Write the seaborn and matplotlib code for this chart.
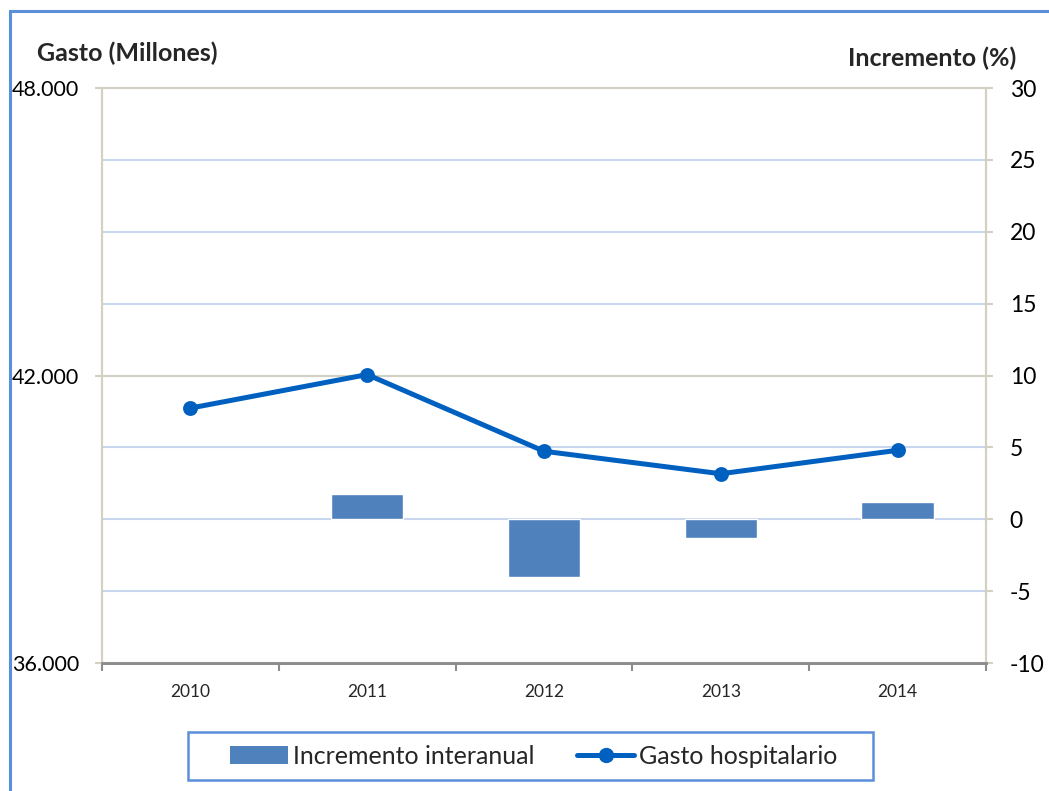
import numpy as np
import pandas as pd
import matplotlib
matplotlib.use("Agg")
import matplotlib.pyplot as plt
import seaborn as sns
from matplotlib.patches import Patch, Rectangle
from matplotlib.lines import Line2D
from matplotlib.ticker import FuncFormatter

# --- data ---
years = ['2010', '2011', '2012', '2013', '2014']
gasto = [41320, 42020, 40420, 39950, 40440]          # millones (left axis)
incremento = [np.nan, 1.75, -4.0, -1.3, 1.2]        # % (right axis)

df = pd.DataFrame({'year': years, 'gasto': gasto, 'incremento': incremento})

sns.set_theme(style="white")
plt.rcParams['font.family'] = ['Lato', 'DejaVu Sans']

BAR = '#4F81BD'
LINE = '#0060C0'
BEIGE = '#D4D0C2'
GRID = '#C8D6EE'
BORDER = '#5B8FD9'

fig = plt.figure(figsize=(10.49, 7.91), dpi=100)
ax = fig.add_axes([0.0972, 0.1618, 0.9400 - 0.0972, 0.8887 - 0.1618])

# bars on the percentage axis (drawn on the right side)
sns.barplot(data=df, x='year', y='incremento', order=years, color=BAR,
            width=0.41, saturation=1, ax=ax, zorder=2)
ax.set_ylim(-10, 30)
ax.set_yticks(np.arange(-10, 31, 5))
ax.yaxis.tick_right()
ax.yaxis.set_major_formatter(FuncFormatter(lambda v, p: f"{int(v)}"))
ax.grid(axis='y', color=GRID, linewidth=1.5, zorder=0)
ax.set_axisbelow(True)

# line on the spending axis (drawn on the left side)
ax2 = ax.twinx()
sns.pointplot(data=df, x='year', y='gasto', order=years, color=LINE,
              markers='o', linewidth=3.6, markersize=8, ax=ax2)
ax2.set_ylim(36000, 48000)
ax2.set_yticks([36000, 42000, 48000])
ax2.yaxis.tick_left()
ax2.yaxis.set_major_formatter(FuncFormatter(lambda v, p: f"{int(v):,}".replace(',', '.')))
ax2.grid(axis='y', color=BEIGE, linewidth=1.5)
ax2.grid(axis='x', visible=False)
ax2.set_xlim(-0.5, 4.5)
ax.set_xlim(-0.5, 4.5)

for a in (ax, ax2):
    a.set_xlabel('')
    a.set_ylabel('')
    for s in a.spines.values():
        s.set_color(BEIGE)
        s.set_linewidth(1.5)
    a.spines['bottom'].set_color('#8C8C8C')
    a.spines['bottom'].set_linewidth(2)
    a.spines['top'].set_visible(False)

ax2.spines['top'].set_visible(True)

ax.tick_params(axis='y', right=True, left=False, labelright=True, labelleft=False,
               length=5, width=1.5, color=BEIGE, labelsize=16.5, pad=12, labelcolor='black')
ax2.tick_params(axis='y', left=True, right=False, labelleft=True, labelright=False,
                length=5, width=1.5, color=BEIGE, labelsize=15.5, pad=11.5, labelcolor='black')

# category boundary ticks on the x axis
ax.set_xticks(range(len(years)))
ax.set_xticklabels(years)
ax.tick_params(axis='x', length=0, labelsize=12.5, pad=15)
ax.set_xticks(np.arange(-0.5, len(years), 1), minor=True)
ax.tick_params(axis='x', which='minor', bottom=True, length=6, width=1.5, color='#8C8C8C')
ax2.tick_params(axis='x', bottom=False, labelbottom=False)

# axis titles
fig.text(37 / 1049, 1 - 53 / 791, 'Gasto (Millones)', fontsize=18, fontweight='bold',
         ha='left', va='center')
fig.text(1016 / 1049, 1 - 58 / 791, 'Incremento (%)', fontsize=18, fontweight='bold',
         ha='right', va='center')

# legend (frame drawn separately to get the wide side padding)
handles = [Patch(facecolor=BAR, edgecolor='none', label='Incremento interanual'),
           Line2D([0], [0], color=LINE, lw=3.6, marker='o', markersize=10,
                  label='Gasto hospitalario')]
fig.legend(handles=handles, loc='center', bbox_to_anchor=(534 / 1049, 1 - 756 / 791), ncol=2,
           fontsize=18, frameon=False, handlelength=2.3, handleheight=0.75,
           handletextpad=0.2, columnspacing=1.7, borderpad=0.3, borderaxespad=0)
fig.patches.append(Rectangle((188 / 1049, 1 - 780 / 791), (873 - 188) / 1049, 48 / 791,
                             transform=fig.transFigure, fill=False,
                             edgecolor=BORDER, linewidth=1.8))

# outer chart border (left and top visible)
fig.patches.append(Rectangle((9.5 / 1049, -0.05), 1.2, 1 - 10.5 / 791 + 0.05,
                             transform=fig.transFigure, fill=False,
                             edgecolor=BORDER, linewidth=2.2))

fig.savefig('out.png', dpi=100)
